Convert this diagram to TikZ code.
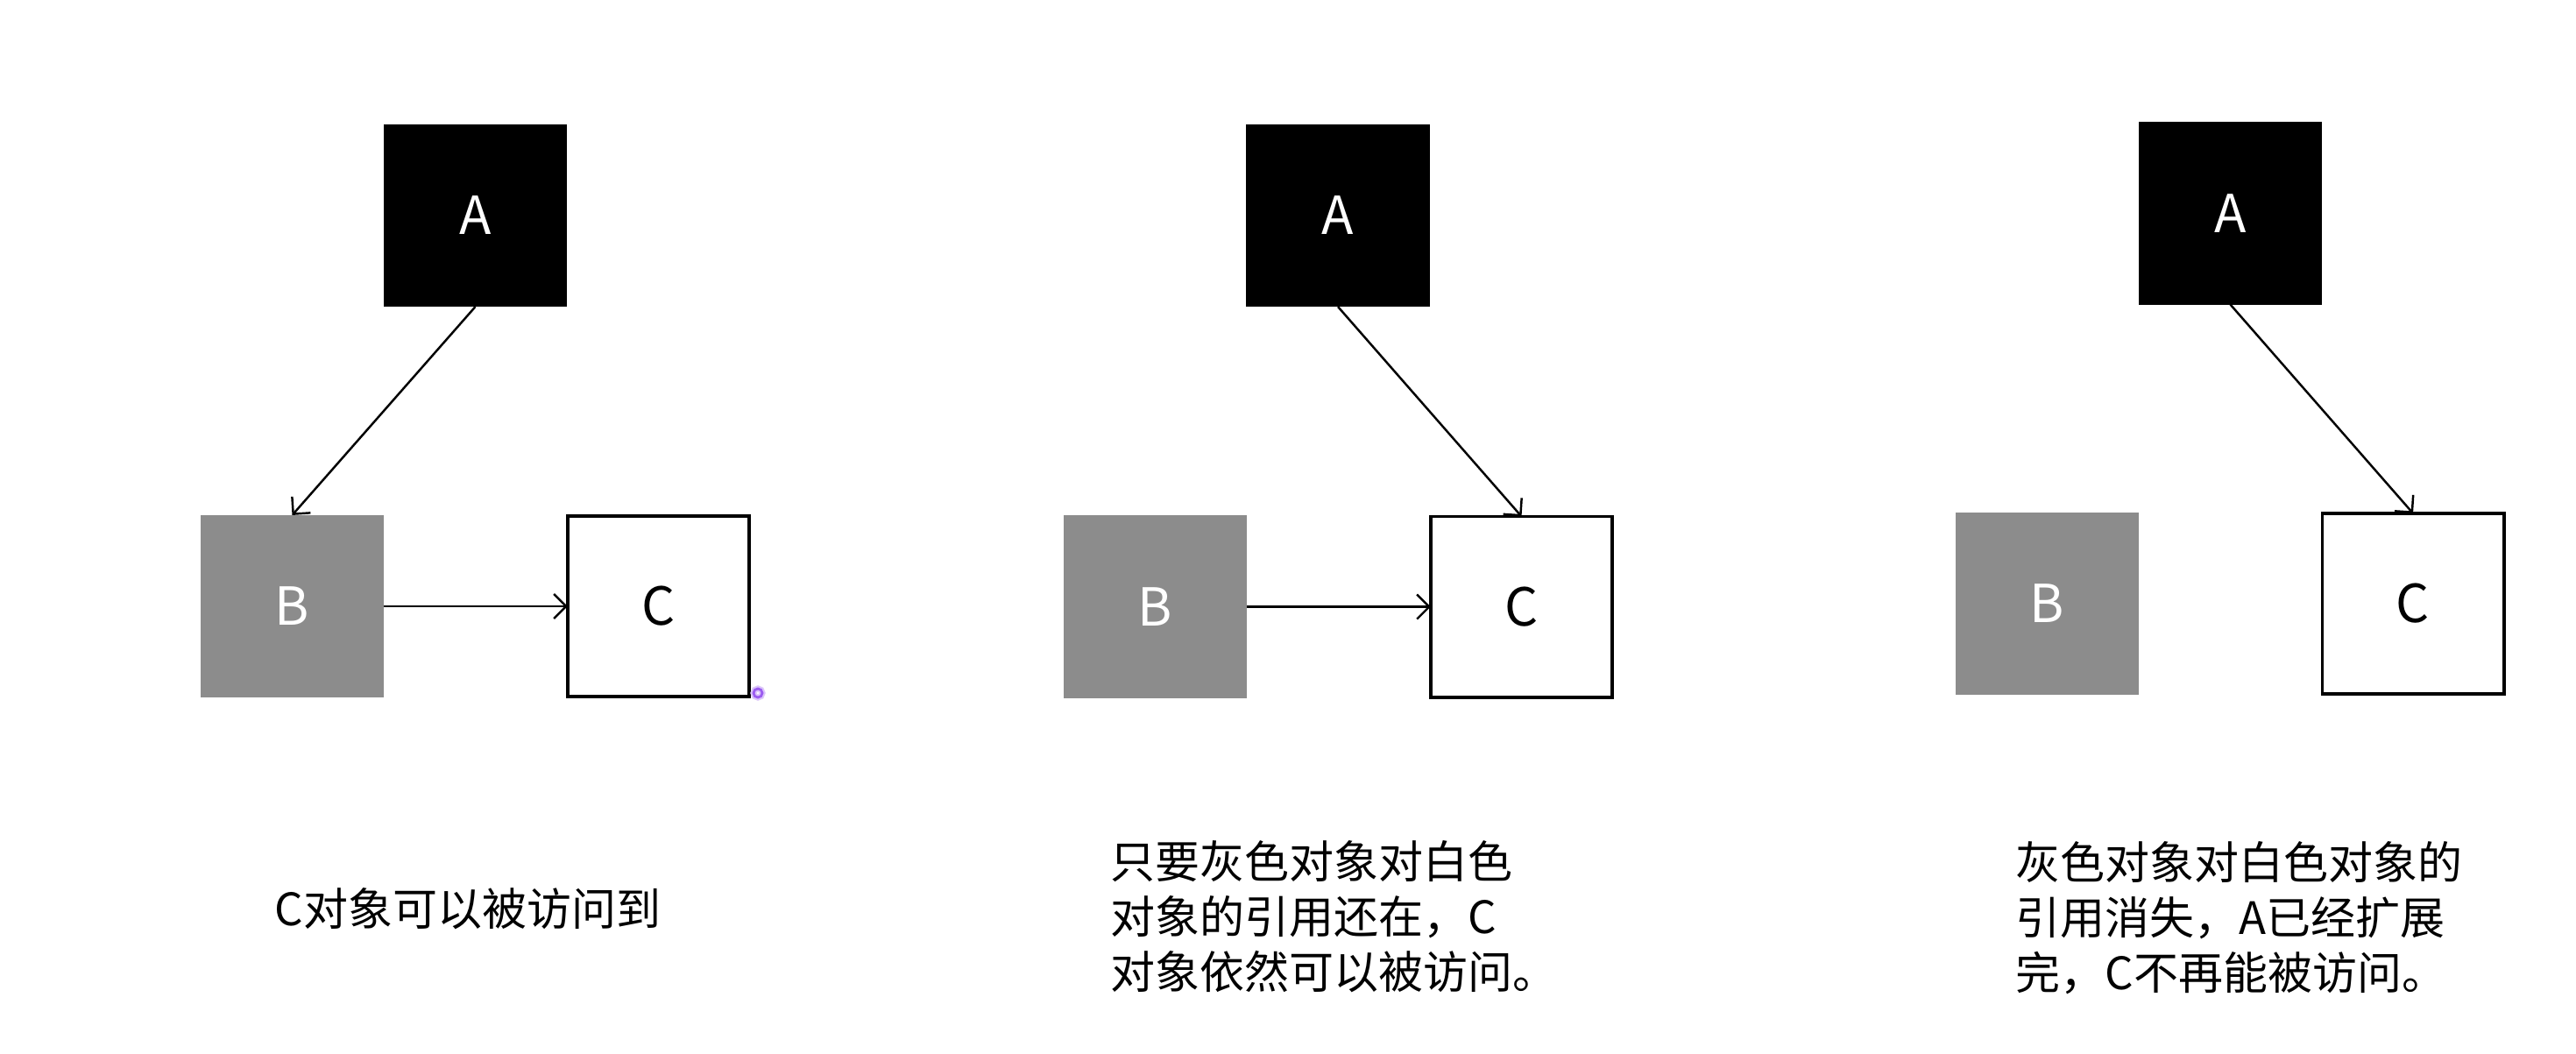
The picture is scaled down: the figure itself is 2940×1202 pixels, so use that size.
\documentclass[tikz,border=0pt]{standalone}
\usepackage{fontspec}
\setmainfont{Noto Sans CJK SC}
\newfontfamily\cjk{Noto Sans CJK SC}
\usetikzlibrary{arrows.meta}
\definecolor{graybox}{HTML}{8C8C8C}
\definecolor{cursor}{HTML}{9B5CF0}
\tikzset{
  obj/.style={minimum width=2.09cm, minimum height=2.08cm, inner sep=0pt, outer sep=0pt,
              font=\cjk\fontsize{17pt}{20pt}\selectfont},
  blackobj/.style={obj, fill=black, text=white},
  grayobj/.style={obj, fill=graybox, text=white},
  whiteobj/.style={obj, draw=black, line width=1.1pt, fill=white, text=black,
                   minimum width=2.07cm, minimum height=2.06cm},
  ref/.style={line width=0.7pt, -{Straight Barb[length=0.14cm,width=0.28cm]}},
  caption/.style={inner sep=0pt, align=left, text=black,
                  font=\cjk\fontsize{14.5pt}{17.9pt}\selectfont}
}
\begin{document}
\begin{tikzpicture}[x=0.01cm, y=-0.01cm]
\useasboundingbox[fill=white] (0,0) rectangle (2940,1202);
% Panel 1
\node[blackobj] (a1) at (542.5,246) {A};
\node[grayobj] (b1) at (333.5,692) {B};
\node[whiteobj] (c1) at (751.5,692) {C};
\draw[ref] (a1.south) -- (b1.north);
\draw[ref] (b1.east) -- (c1.west);
\node[caption, anchor=west] (t1) at (313,1037.5) {C对象可以被访问到};
\draw[cursor!35, line width=2pt] (865,791) circle (5);
\draw[cursor, line width=0.8pt] (865,791) circle (5);
% Panel 2
\node[blackobj] (a2) at (1527,246) {A};
\node[grayobj] (b2) at (1318.5,692.5) {B};
\node[whiteobj] (c2) at (1736.5,692.5) {C};
\draw[ref] (a2.south) -- (c2.north);
\draw[ref] (b2.east) -- (c2.west);
\node[caption, anchor=north west] (t2) at (1267,959) {只要灰色对象对白色\\对象的引用还在，C\\对象依然可以被访问。};
% Panel 3
\node[blackobj] (a3) at (2545.5,243.5) {A};
\node[grayobj] (b3) at (2336.5,689) {B};
\node[whiteobj] (c3) at (2754,689) {C};
\draw[ref] (a3.south) -- (c3.north);
\node[caption, anchor=north west] (t3) at (2300,960) {灰色对象对白色对象的\\引用消失，A已经扩展\\完，C不再能被访问。};
\end{tikzpicture}
\end{document}
